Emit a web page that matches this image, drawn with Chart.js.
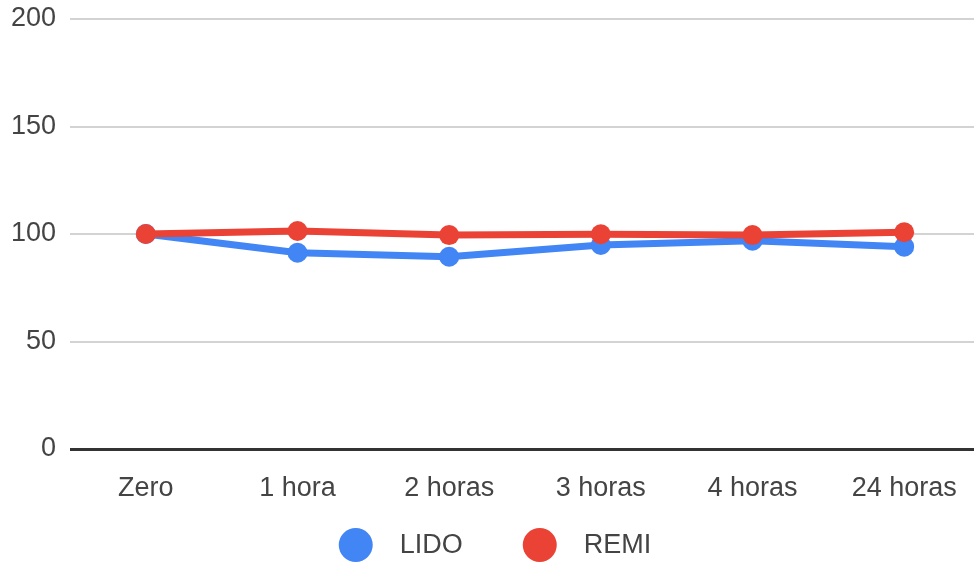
<!DOCTYPE html>
<html>
<head>
<meta charset="utf-8">
<script src="https://cdn.jsdelivr.net/npm/chart.js@4/dist/chart.umd.min.js"></script>
<style>
  html, body { margin: 0; padding: 0; background: #fff; overflow: hidden; }
  #wrap { width: 990px; height: 563px; }
</style>
</head>
<body>
<div id="wrap"><canvas id="chart" width="990" height="563"></canvas></div>
<script>
// Time points and measured values
const categories = ['Zero', '1 hora', '2 horas', '3 horas', '4 horas', '24 horas'];
const lidoValues = [100, 91.3, 89.4, 94.9, 96.9, 94.1];
const remiValues = [100, 101.4, 99.5, 99.9, 99.5, 100.8];
const seriesNames = ['LIDO', 'REMI'];
const yMin = 0, yMax = 200, yStep = 50;

const FONT = '"Liberation Sans", Arial, sans-serif';
const TEXT = '#444';
const BLUE = '#4285F4';
const RED = '#EA4335';

// Legend drawn centred beneath the axis labels
const bottomLegend = {
  id: 'bottomLegend',
  afterDraw(chart) {
    const ctx = chart.ctx;
    const r = 17, gapText = 27, gapItem = 60, cy = 545;
    ctx.save();
    ctx.font = '27px ' + FONT;
    ctx.textBaseline = 'middle';
    const items = chart.data.datasets.map(ds => ({ label: ds.label, color: ds.borderColor, w: ctx.measureText(ds.label).width }));
    let total = items.reduce((s, it) => s + 2 * r + gapText + it.w, 0) + gapItem * (items.length - 1);
    let x = chart.width / 2 - total / 2;
    items.forEach(it => {
      ctx.fillStyle = it.color;
      ctx.beginPath();
      ctx.arc(x + r, cy, r, 0, Math.PI * 2);
      ctx.fill();
      ctx.fillStyle = TEXT;
      ctx.textAlign = 'left';
      ctx.fillText(it.label, x + 2 * r + gapText, cy + 1);
      x += 2 * r + gapText + it.w + gapItem;
    });
    ctx.restore();
  }
};

new Chart(document.getElementById('chart'), {
  type: 'line',
  data: {
    labels: categories,
    datasets: [
      {
        label: seriesNames[0],
        data: lidoValues,
        borderColor: BLUE,
        backgroundColor: BLUE,
        borderWidth: 7,
        pointRadius: 10,
        pointBorderWidth: 0,
        pointBackgroundColor: BLUE,
        tension: 0,
        order: 1
      },
      {
        label: seriesNames[1],
        data: remiValues,
        borderColor: RED,
        backgroundColor: RED,
        borderWidth: 7,
        pointRadius: 10,
        pointBorderWidth: 0,
        pointBackgroundColor: RED,
        tension: 0,
        order: 0
      }
    ]
  },
  options: {
    responsive: false,
    animation: false,
    devicePixelRatio: 1,
    layout: { padding: { top: 19, right: 8, left: 0, bottom: 0 } },
    plugins: {
      legend: { display: false },
      tooltip: { enabled: false }
    },
    scales: {
      x: {
        offset: true,
        grid: { display: false, drawTicks: false },
        border: { display: false },
        ticks: { color: TEXT, font: { family: FONT, size: 27 }, padding: 23, maxRotation: 0, autoSkip: false },
        afterFit(scale) { scale.height = 114; }
      },
      y: {
        min: yMin,
        max: yMax,
        ticks: { stepSize: yStep, color: TEXT, font: { family: FONT, size: 27 }, padding: 14 },
        grid: {
          drawTicks: false,
          color: ctx => ctx.tick && ctx.tick.value === 0 ? '#333' : '#d3d3d3',
          lineWidth: ctx => ctx.tick && ctx.tick.value === 0 ? 3 : 2
        },
        border: { display: false },
        afterFit(scale) {
          scale.width = 70;
          scale.paddingTop = 0;
          scale.paddingBottom = 0;
        }
      }
    }
  },
  plugins: [bottomLegend]
});
</script>
</body>
</html>
